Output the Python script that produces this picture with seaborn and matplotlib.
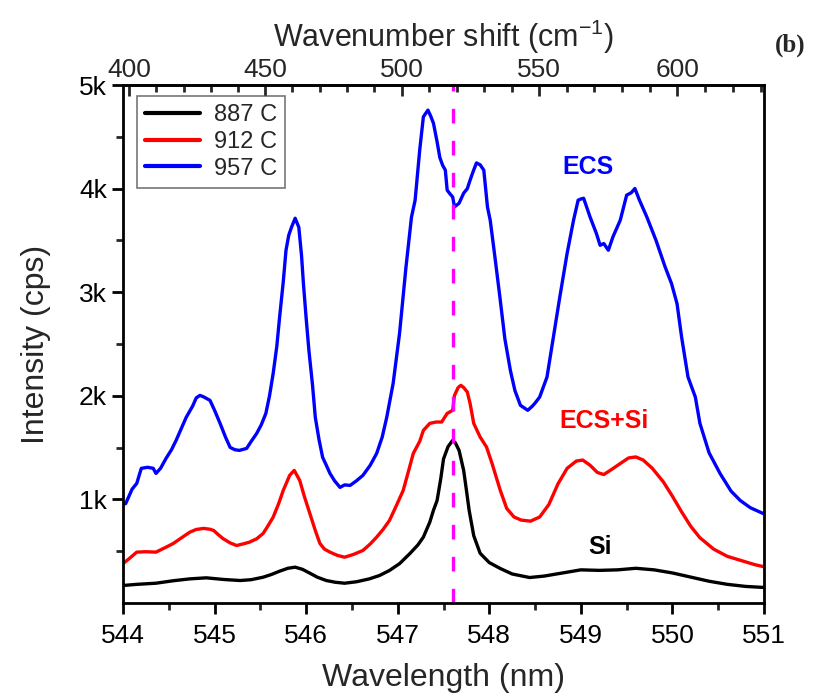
import numpy as np
import matplotlib.pyplot as plt
from matplotlib.ticker import FixedLocator, MultipleLocator
import pandas as pd
import seaborn as sns

# =========================
# DATA
# =========================
series_labels = ['887 C', '912 C', '957 C']
series_colors = ['black', 'red', 'blue']

wl_887 = [544.00, 544.15, 544.36, 544.55, 544.73, 544.91, 545.10, 545.28, 545.40, 545.53,
          545.62, 545.71, 545.80, 545.88, 545.96, 546.04, 546.12, 546.22, 546.32, 546.42,
          546.55, 546.69, 546.80, 546.91, 547.02, 547.13, 547.22, 547.28, 547.35, 547.39,
          547.43, 547.47, 547.50, 547.55, 547.60, 547.63, 547.67, 547.72, 547.75, 547.78,
          547.83, 547.90, 548.00, 548.12, 548.25, 548.44, 548.60, 548.80, 549.00, 549.20,
          549.40, 549.60, 549.80, 550.00, 550.20, 550.40, 550.60, 550.80, 551.00]
int_887 = [169, 180, 191, 215, 233, 243, 227, 217, 225, 249,
           275, 307, 335, 346, 325, 288, 250, 217, 200, 191,
           205, 233, 265, 314, 380, 475, 560, 636, 780, 894,
           990, 1200, 1390, 1510, 1570, 1545, 1473, 1280, 1090, 894,
           650, 480, 390, 333, 280, 246, 260, 290, 320, 315,
           320, 335, 320, 290, 250, 210, 180, 160, 150]

wl_912 = [544.00, 544.07, 544.15, 544.25, 544.36, 544.45, 544.55, 544.64, 544.73, 544.80,
          544.88, 544.95, 544.99, 545.04, 545.09, 545.17, 545.24, 545.31, 545.38, 545.46,
          545.53, 545.58, 545.64, 545.70, 545.75, 545.82, 545.87, 545.93, 545.98, 546.04,
          546.10, 546.15, 546.20, 546.26, 546.34, 546.42, 546.52, 546.62, 546.70, 546.77,
          546.84, 546.91, 546.98, 547.06, 547.12, 547.17, 547.24, 547.28, 547.35, 547.42,
          547.48, 547.54, 547.60, 547.62, 547.66, 547.69, 547.72, 547.76, 547.79, 547.83,
          547.90, 547.97, 548.03, 548.12, 548.19, 548.27, 548.35, 548.45, 548.55, 548.65,
          548.75, 548.85, 548.95, 549.02, 549.10, 549.18, 549.25, 549.32, 549.42, 549.52,
          549.60, 549.68, 549.78, 549.90, 550.00, 550.10, 550.20, 550.30, 550.45, 550.60,
          550.75, 550.90, 551.00]
int_912 = [380, 430, 491, 495, 491, 530, 575, 630, 684, 710,
           720, 712, 700, 660, 623, 580, 555, 570, 587, 620,
           671, 740, 829, 960, 1087, 1232, 1280, 1183, 1030, 865,
           700, 575, 520, 491, 460, 442, 470, 507, 570, 636,
           710, 797, 930, 1087, 1280, 1444, 1560, 1666, 1734, 1747,
           1747, 1830, 1860, 2004, 2080, 2101, 2080, 2036, 1927, 1734,
           1602, 1505, 1347, 1087, 913, 830, 800, 790, 830, 950,
           1150, 1300, 1370, 1380, 1330, 1260, 1240, 1280, 1340, 1400,
           1410, 1380, 1300, 1170, 1030, 880, 740, 630, 520, 450,
           410, 370, 350]

wl_957 = [544.00, 544.03, 544.10, 544.15, 544.20, 544.27, 544.33, 544.36, 544.41, 544.47,
          544.53, 544.58, 544.64, 544.69, 544.76, 544.80, 544.84, 544.88, 544.95, 545.00,
          545.06, 545.12, 545.17, 545.22, 545.27, 545.35, 545.40, 545.46, 545.51, 545.56,
          545.60, 545.64, 545.68, 545.71, 545.75, 545.78, 545.81, 545.84, 545.88, 545.92,
          545.95, 545.97, 546.00, 546.03, 546.07, 546.10, 546.14, 546.18, 546.22, 546.26,
          546.31, 546.37, 546.42, 546.48, 546.55, 546.62, 546.70, 546.77, 546.83, 546.88,
          546.95, 547.02, 547.09, 547.15, 547.19, 547.24, 547.28, 547.33, 547.36, 547.39,
          547.43, 547.46, 547.49, 547.52, 547.54, 547.57, 547.60, 547.62, 547.67, 547.72,
          547.76, 547.79, 547.83, 547.86, 547.90, 547.94, 547.98, 548.01, 548.06, 548.12,
          548.17, 548.23, 548.28, 548.34, 548.42, 548.47, 548.50, 548.55, 548.63, 548.70,
          548.77, 548.85, 548.92, 548.97, 549.00, 549.03, 549.10, 549.17, 549.21, 549.25,
          549.30, 549.35, 549.43, 549.50, 549.55, 549.59, 549.64, 549.72, 549.82, 549.92,
          549.99, 550.05, 550.10, 550.17, 550.25, 550.30, 550.40, 550.52, 550.64, 550.74,
          550.85, 551.00]
int_957 = [950, 961, 1100, 1154, 1300, 1310, 1300, 1251, 1300, 1396,
           1480, 1570, 1690, 1792, 1900, 1980, 2004, 1990, 1956, 1860,
           1734, 1600, 1502, 1480, 1473, 1492, 1560, 1637, 1720, 1830,
           2000, 2217, 2480, 2758, 3100, 3405, 3550, 3627, 3714, 3627,
           3350, 3086, 2750, 2439, 2100, 1792, 1580, 1406, 1330, 1251,
           1180, 1116, 1140, 1135, 1180, 1232, 1330, 1444, 1600, 1792,
           2120, 2603, 3241, 3724, 3888, 4371, 4693, 4758, 4700, 4632,
           4451, 4300, 4226, 4178, 3985, 3950, 3920, 3823, 3859, 3956,
           4000, 4081, 4180, 4248, 4230, 4178, 3823, 3695, 3350, 2922,
           2550, 2246, 2050, 1908, 1860, 1900, 1930, 1988, 2181, 2567,
           2954, 3376, 3695, 3888, 3900, 3907, 3727, 3566, 3453, 3470,
           3405, 3534, 3695, 3937, 3960, 4001, 3888, 3727, 3502, 3244,
           3083, 2890, 2567, 2181, 1988, 1734, 1450, 1250, 1080, 990,
           920, 860]

si_line = 547.6          # nm, dashed marker
laser_wl = 532.48        # nm, excitation used for the top axis

ytick_vals = [1000, 2000, 3000, 4000, 5000]
ytick_labels = ['1k', '2k', '3k', '4k', '5k']
xtick_vals = [544, 545, 546, 547, 548, 549, 550, 551]
top_tick_vals = [400, 450, 500, 550, 600]

# =========================
# PLOTTING SETUP
# =========================
sns.set_theme(style='ticks')
plt.rcParams['font.family'] = ['Liberation Sans', 'DejaVu Sans']
plt.rcParams['mathtext.default'] = 'regular'

df = pd.concat([
    pd.DataFrame({'wavelength': wl_887, 'intensity': int_887, 'sample': series_labels[0]}),
    pd.DataFrame({'wavelength': wl_912, 'intensity': int_912, 'sample': series_labels[1]}),
    pd.DataFrame({'wavelength': wl_957, 'intensity': int_957, 'sample': series_labels[2]}),
], ignore_index=True)

fig = plt.figure(figsize=(8.14, 6.98), dpi=100)
ax = fig.add_axes([0.1511, 0.1361, 0.7875, 0.7421])

sns.lineplot(data=df, x='wavelength', y='intensity', hue='sample',
             hue_order=series_labels, palette=series_colors,
             estimator=None, sort=False, lw=2.4, ax=ax)

ax.axvline(si_line, color='#ff00ff', lw=2.4, ls=(0, (4.4, 5.2)))

# =========================
# FORMATTING
# =========================
ax.set_xlim(544, 551)
ax.set_ylim(0, 5000)
ax.set_xticks(xtick_vals)
ax.xaxis.set_minor_locator(MultipleLocator(0.5))
ax.set_yticks(ytick_vals)
ax.set_yticklabels(ytick_labels)
ax.yaxis.set_minor_locator(FixedLocator([500, 1500, 2500, 3500, 4500]))

for s in ax.spines.values():
    s.set_linewidth(2)
    s.set_color('black')
ax.tick_params(which='major', direction='out', length=8, width=2,
               labelsize=19, colors='black', top=False, right=False)
ax.tick_params(which='minor', direction='out', length=5, width=2,
               top=False, right=False)
ax.tick_params(axis='x', which='both', bottom=True)
ax.tick_params(axis='y', which='both', left=True)
ax.tick_params(axis='x', pad=7)

ax.set_xlabel('Wavelength (nm)', fontsize=23, labelpad=11)
ax.set_ylabel('Intensity (cps)', fontsize=23, labelpad=20)


def to_shift(w):
    return 1e7 / laser_wl - 1e7 / np.asarray(w, dtype=float)


def to_wl(s):
    return 1e7 / (1e7 / laser_wl - np.asarray(s, dtype=float))


sec = ax.secondary_xaxis('top', functions=(to_shift, to_wl))
sec.set_xticks(top_tick_vals)
sec.xaxis.set_minor_locator(MultipleLocator(10))
sec.tick_params(which='major', direction='in', length=8, width=2, labelsize=19, pad=2)
sec.tick_params(which='minor', direction='in', length=5, width=2)
sec.spines['top'].set_linewidth(2)
sec.set_xlabel('Wavenumber shift (cm$^{-1}$)', fontsize=22, labelpad=8)

# legend
handles, labels = ax.get_legend_handles_labels()
leg = ax.legend(handles, labels, loc='upper left', bbox_to_anchor=(0.022, 0.979),
                borderaxespad=0, frameon=True, fancybox=False, fontsize=17,
                handlelength=2.3, labelspacing=0.2, borderpad=0.35,
                handletextpad=0.6, title=None)
leg.get_frame().set_edgecolor('#555555')
leg.get_frame().set_linewidth(1.2)
for ln in leg.get_lines():
    ln.set_linewidth(3)

# labels on the curves
ax.text(549.08, 4210, 'ECS', color='blue', fontsize=18, fontweight='bold',
        ha='center', va='center')
ax.text(549.25, 1760, 'ECS+Si', color='red', fontsize=18, fontweight='bold',
        ha='center', va='center')
ax.text(549.21, 540, 'Si', color='black', fontsize=18, fontweight='bold',
        ha='center', va='center')
fig.text(0.9705, 0.9355, '(b)', fontsize=18, fontweight='bold',
         family=['Liberation Serif'], ha='center', va='center')

fig.savefig('out.png', dpi=100)
